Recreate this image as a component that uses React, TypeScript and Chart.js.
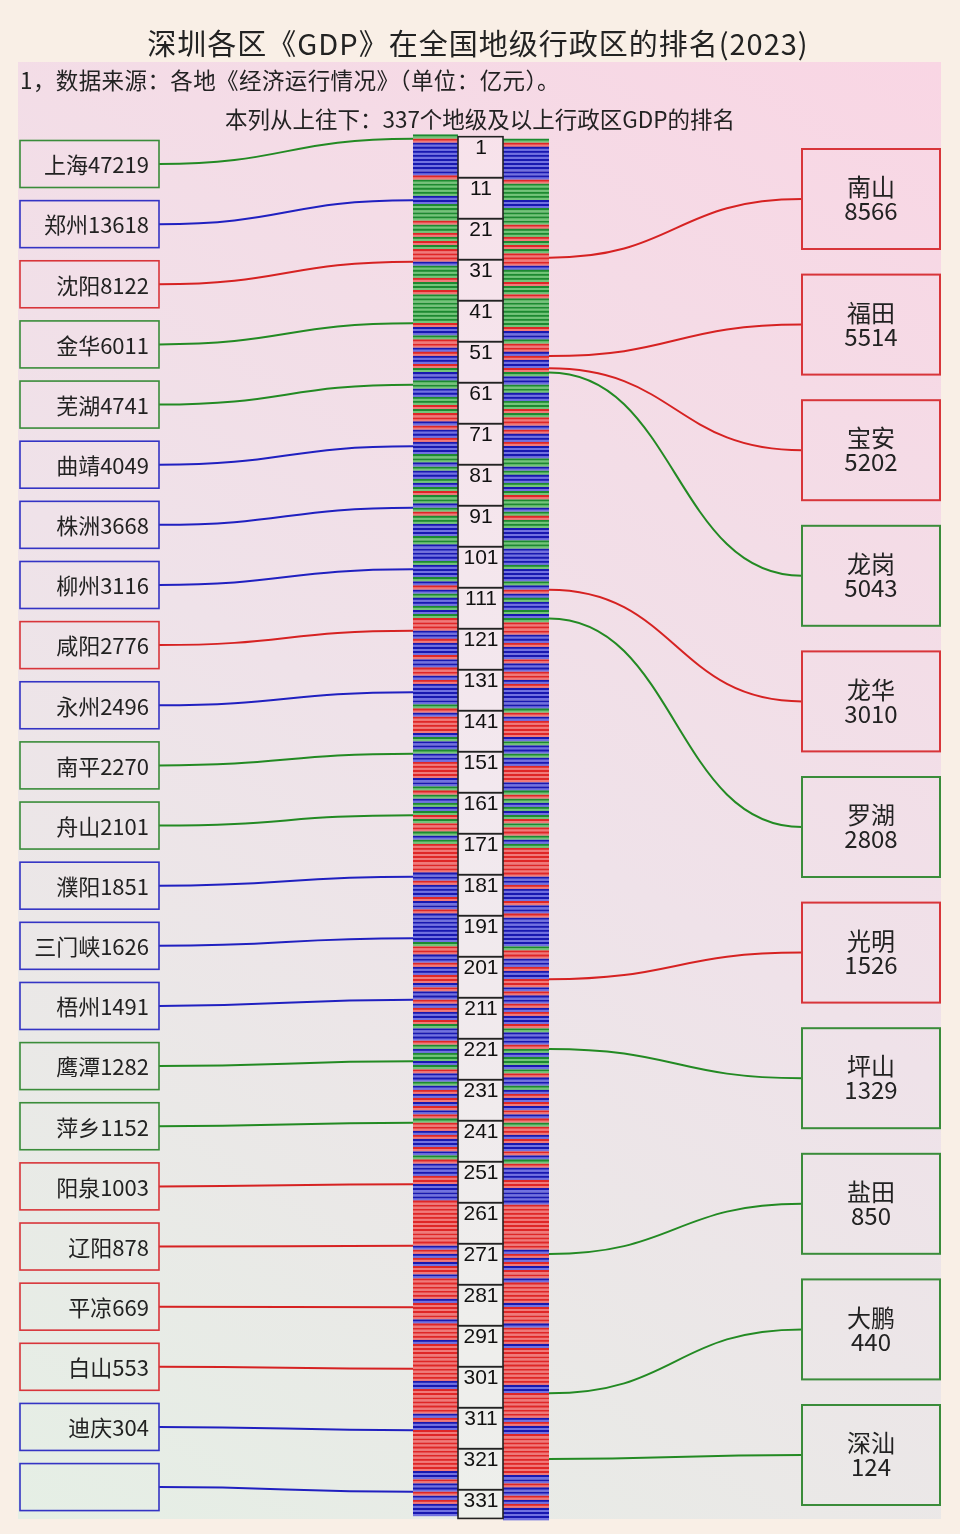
import { useEffect, useRef } from "react";
import { Chart, registerables } from "chart.js";

Chart.register(...registerables);

// ---------- data ----------
const titleText = "深圳各区《GDP》在全国地级行政区的排名(2023)";
const noteLine1 = "1，数据来源：各地《经济运行情况》（单位：亿元）。";
const noteLine2 = "本列从上往下：337个地级及以上行政区GDP的排名";

// colour class of each of the 337 ranks, ten per block (R red, G green, B blue)
const stripeBlocks = [
  "GRBBBBBBBB", "RGGGGBBGGG", "GRGGRGRGRR", "RBGGGRGGRG", "GGGGGGRBBG",
  "RRBRBBRGBB", "GGBBGGRGRR", "BRBBRBBBGG", "BGBBGBGRGG", "BGRGGBBBGG",
  "BBBBGBBBGB", "RBGBBGBGRR", "RBBRBBBRBB", "RRBRBBBBBG", "RBRRRRBGBB",
  "GBBRRRRBBG", "RGBGBGRGRR", "GBGRRRRRRR", "BBRBBBRBBR", "BBBBBBBGRR",
  "BBRBBRRBRB", "BRBRBBRGBB", "BRGBGGBGRB", "BGBRBRBRBR", "GRRBRBBRBG",
  "RBBBRRBBBB", "RRRRRRRRRR", "RBRBRBRRBR", "RRRRBRRRRB", "RRRRBRRRRR",
  "RRRRBBRRRR", "RRBRBBRRRR", "RRRRRRBBRB", "BRBRBBB",
];

// rank number labels in the middle column
const rankTicks = [1, 11, 21, 31, 41, 51, 61, 71, 81, 91, 101, 111, 121, 131, 141, 151, 161, 171, 181, 191, 201, 211, 221, 231, 241, 251, 261, 271, 281, 291, 301, 311, 321, 331];
const rankTotal = 337;

// left column: sample cities
const leftNames = ["上海", "郑州", "沈阳", "金华", "芜湖", "曲靖", "株洲", "柳州", "咸阳", "永州", "南平", "舟山", "濮阳", "三门峡", "梧州", "鹰潭", "萍乡", "阳泉", "辽阳", "平凉", "白山", "迪庆", ""];
const leftValues = ["47219", "13618", "8122", "6011", "4741", "4049", "3668", "3116", "2776", "2496", "2270", "2101", "1851", "1626", "1491", "1282", "1152", "1003", "878", "669", "553", "304", ""];
const leftRanks = [1, 16, 31, 46, 61, 76, 91, 106, 121, 136, 151, 166, 181, 196, 211, 226, 241, 256, 271, 286, 301, 316, 331];
const leftColors = ["G", "B", "R", "G", "G", "B", "B", "B", "R", "B", "G", "G", "B", "B", "B", "G", "G", "R", "R", "R", "R", "B", "B"];

// right column: Shenzhen districts
const rightNames = ["南山", "福田", "宝安", "龙岗", "龙华", "罗湖", "光明", "坪山", "盐田", "大鹏", "深汕"];
const rightValues = ["8566", "5514", "5202", "5043", "3010", "2808", "1526", "1329", "850", "440", "124"];
const rightRanks = [30, 54, 57, 58, 111, 118, 206, 223, 273, 307, 323];
const rightColors = ["R", "R", "R", "G", "R", "G", "R", "G", "G", "G", "G"];

// ---------- styles ----------
const DARK: Record<string, string> = { R: "#df2626", G: "#1c8a30", B: "#1818b0" };
const TINT: Record<string, string> = { R: "#f07a7a", G: "#74c47a", B: "#7272e0" };
const LINE: Record<string, string> = { R: "#d62222", G: "#238a23", B: "#2020c0" };
const BOX: Record<string, string> = { R: "#d8353a", G: "#3a8c3a", B: "#3434c4" };
const CJK = '"Noto Sans CJK SC", "Noto Sans", sans-serif';

const stripeCodes: string[] = stripeBlocks.join("").split("");
const ranks: number[] = stripeCodes.map((_, i) => i + 1);

function sCurve(ctx: CanvasRenderingContext2D, x0: number, y0: number, x1: number, y1: number, color: string) {
  const mx = (x0 + x1) / 2;
  ctx.beginPath();
  ctx.moveTo(x0, y0);
  ctx.bezierCurveTo(mx, y0, mx, y1, x1, y1);
  ctx.strokeStyle = color;
  ctx.lineWidth = 2;
  ctx.stroke();
}

const decorPlugin = {
  id: "decor",
  beforeDraw(chart: any) {
    const ctx: CanvasRenderingContext2D = chart.ctx;
    const W = chart.width;
    const H = chart.height;
    ctx.save();
    ctx.fillStyle = "#f9efe6";
    ctx.fillRect(0, 0, W, H);
    const g = ctx.createLinearGradient(941, 62, 18, 1519);
    g.addColorStop(0, "#f9d6e4");
    g.addColorStop(0.5, "#efe2e9");
    g.addColorStop(1, "#e5efe5");
    ctx.fillStyle = g;
    ctx.fillRect(18, 62, 923, 1457);

    ctx.fillStyle = "#222";
    ctx.textBaseline = "middle";
    ctx.font = `29px ${CJK}`;
    ctx.textAlign = "center";
    (ctx as any).letterSpacing = "1px";
    ctx.fillText(titleText, 478, 44);
    (ctx as any).letterSpacing = "0.4px";
    ctx.font = `22.5px ${CJK}`;
    ctx.textAlign = "left";
    ctx.fillText(noteLine1, 20, 80);
    (ctx as any).letterSpacing = "0px";
    ctx.textAlign = "center";
    ctx.fillText(noteLine2, 480, 119);
    ctx.restore();
  },
  afterDatasetsDraw(chart: any) {
    const ctx: CanvasRenderingContext2D = chart.ctx;
    const xs = chart.scales.x;
    const ys = chart.scales.y;
    ctx.save();

    // middle rank column
    const cx0 = xs.getPixelForValue(458);
    const cx1 = xs.getPixelForValue(503);
    rankTicks.forEach((start) => {
      const end = Math.min(start + 9, rankTotal);
      const top = ys.getPixelForValue(start - 0.5);
      const bot = ys.getPixelForValue(end + 0.5);
      ctx.fillStyle = "rgba(255,255,255,0.22)";
      ctx.fillRect(cx0, top, cx1 - cx0, bot - top);
      ctx.strokeStyle = "#222";
      ctx.lineWidth = 1.6;
      ctx.strokeRect(cx0, top, cx1 - cx0, bot - top);
      ctx.fillStyle = "#111";
      ctx.font = '21px "Liberation Sans", Arial, sans-serif';
      ctx.textAlign = "center";
      ctx.textBaseline = "top";
      ctx.fillText(String(start), (cx0 + cx1) / 2 + 0.5, top + 1);
    });

    // left boxes + connectors
    const lx0 = xs.getPixelForValue(20);
    const lx1 = xs.getPixelForValue(159);
    const sl = xs.getPixelForValue(413);
    leftNames.forEach((name, i) => {
      const cy = 164 + i * 60.14;
      const c = leftColors[i];
      sCurve(ctx, lx1, cy, sl, ys.getPixelForValue(leftRanks[i]), LINE[c]);
      ctx.strokeStyle = BOX[c];
      ctx.lineWidth = 1.6;
      ctx.strokeRect(lx0, cy - 23.5, lx1 - lx0, 47);
      ctx.fillStyle = "#222";
      ctx.font = `22px ${CJK}`;
      ctx.textAlign = "right";
      ctx.textBaseline = "middle";
      ctx.fillText(name + leftValues[i], 149, cy + 1);
    });

    // right boxes + connectors
    const rx0 = xs.getPixelForValue(802);
    const rx1 = xs.getPixelForValue(940);
    const sr = xs.getPixelForValue(549);
    rightNames.forEach((name, i) => {
      const cy = 199 + i * 125.6;
      const c = rightColors[i];
      sCurve(ctx, sr, ys.getPixelForValue(rightRanks[i]), rx0, cy, LINE[c]);
      ctx.strokeStyle = BOX[c];
      ctx.lineWidth = 2;
      ctx.strokeRect(rx0, cy - 50, rx1 - rx0, 100);
      ctx.fillStyle = "#222";
      ctx.font = `24px ${CJK}`;
      ctx.textAlign = "center";
      ctx.textBaseline = "middle";
      ctx.fillText(name, 871, cy - 12);
      ctx.fillText(rightValues[i], 871, cy + 12);
    });
    ctx.restore();
  },
};

export default function App() {
  const ref = useRef<HTMLCanvasElement | null>(null);
  useEffect(() => {
    document.body.style.margin = "0";
    const canvas = ref.current;
    if (!canvas) return;
    const stripeDataset = (x0: number, x1: number) => ({
      data: ranks.map((r) => ({ x: [x0, x1], y: r })),
      backgroundColor: stripeCodes.map((c) => TINT[c]),
      borderColor: stripeCodes.map((c) => DARK[c]),
      borderWidth: { top: 2.5, right: 0, bottom: 0, left: 0 },
      borderSkipped: false,
      barThickness: 4.1,
    });
    const chart = new Chart(canvas, {
      type: "bar",
      data: {
        datasets: [stripeDataset(413, 458), stripeDataset(503, 549)] as any,
      },
      options: {
        indexAxis: "y",
        animation: false,
        responsive: false,
        devicePixelRatio: 1,
        layout: { padding: 0 },
        scales: {
          x: { type: "linear", min: 0, max: 960, display: false, offset: false },
          y: { type: "linear", min: -32.84, max: 341.3, reverse: true, display: false, offset: false, grid: { offset: false } },
        },
        plugins: { legend: { display: false }, tooltip: { enabled: false }, title: { display: false } },
      } as any,
      plugins: [decorPlugin],
    });
    return () => chart.destroy();
  }, []);
  return (
    <div style={{ width: 960, height: 1534 }}>
      <canvas ref={ref} width={960} height={1534} style={{ display: "block" }} />
    </div>
  );
}
